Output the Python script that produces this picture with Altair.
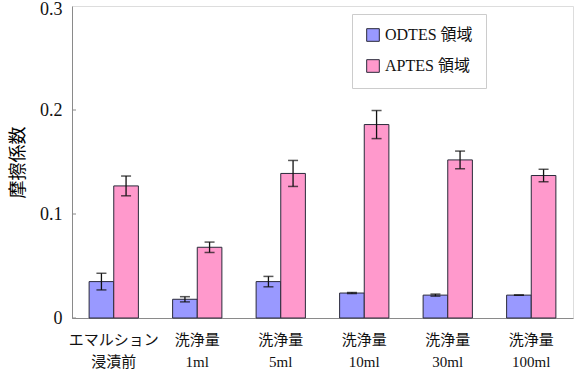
import altair as alt
import pandas as pd

# 摩擦係数 measured on each region after each washing step
groups = ["エマルション\n浸漬前", "洗浄量\n1ml", "洗浄量\n5ml", "洗浄量\n10ml", "洗浄量\n30ml", "洗浄量\n100ml"]
series = ["ODTES 領域", "APTES 領域"]
odtes_mean = [0.035, 0.018, 0.035, 0.024, 0.022, 0.022]
odtes_err = [0.008, 0.0025, 0.005, 0.0005, 0.001, 0.0]
aptes_mean = [0.127, 0.068, 0.139, 0.186, 0.152, 0.137]
aptes_err = [0.0095, 0.005, 0.0125, 0.0135, 0.0085, 0.006]
y_ticks = [0.0, 0.1, 0.2]

rows = []
for g, m, e in zip(groups, odtes_mean, odtes_err):
    rows.append({"group": g, "series": series[0], "mean": m, "lo": m - e, "hi": m + e})
for g, m, e in zip(groups, aptes_mean, aptes_err):
    rows.append({"group": g, "series": series[1], "mean": m, "lo": m - e, "hi": m + e})
df = pd.DataFrame(rows)

FONT = "Liberation Serif, Noto Sans CJK JP"

x_enc = alt.X(
    "group:N", sort=groups, title=None,
    scale=alt.Scale(paddingInner=0.41, paddingOuter=0.205),
    axis=alt.Axis(labelExpr="split(datum.label, '\\n')", labelAngle=0, ticks=False,
                  labelFontSize=15, labelPadding=14, labelLineHeight=22,
                  domainColor="#8a8a8a", labelColor="#111"),
)
xoff = alt.XOffset("series:N", sort=series)
y_scale = alt.Scale(domain=[0, 0.3], nice=False)

bars = alt.Chart(df).mark_bar(stroke="#2a2a3a", strokeWidth=1).encode(
    x=x_enc,
    xOffset=xoff,
    y=alt.Y("mean:Q", scale=y_scale, title="摩擦係数",
            axis=alt.Axis(values=[0, 0.1, 0.2, 0.3], ticks=False, grid=False,
                          labelExpr="datum.value == 0 ? '0' : format(datum.value, '.1f')",
                          labelOffset={"condition": {"test": "datum.value >= 0.3", "value": 3}, "value": 0},
                          labelFontSize=18, labelPadding=10, titleFontSize=18,
                          titlePadding=12, titleFontWeight="normal",
                          domainColor="#8a8a8a", labelColor="#111")),
    color=alt.Color("series:N", sort=series,
                    scale=alt.Scale(domain=series, range=["#9999FF", "#FF99CC"]),
                    legend=alt.Legend(title=None, orient="none", legendX=280, legendY=8,
                                      symbolType="square", symbolSize=160,
                                      symbolStrokeColor="#2a2a3a", symbolStrokeWidth=1,
                                      labelFontSize=16, labelFont=FONT, labelColor="#111",
                                      rowPadding=13, padding=13, strokeColor="#cccccc",
                                      fillColor="white", labelLimit=200)),
)

whisk = alt.Chart(df).mark_rule(color="#111", strokeWidth=1.3).encode(
    x=alt.X("group:N", sort=groups), xOffset=xoff,
    y=alt.Y("lo:Q", scale=y_scale), y2="hi:Q",
)
cap_hi = alt.Chart(df).mark_tick(color="#111", thickness=1.5, size=10).encode(
    x=alt.X("group:N", sort=groups), xOffset=xoff, y=alt.Y("hi:Q", scale=y_scale),
)
cap_lo = alt.Chart(df).mark_tick(color="#111", thickness=1.5, size=10).encode(
    x=alt.X("group:N", sort=groups), xOffset=xoff, y=alt.Y("lo:Q", scale=y_scale),
)

# short inward tick marks on the value axis
ticks = alt.Chart(pd.DataFrame({"v": y_ticks})).mark_rule(color="#8a8a8a").encode(
    x=alt.value(0), x2=alt.value(4), y=alt.Y("v:Q", scale=y_scale),
)

chart = alt.layer(bars, whisk, cap_hi, cap_lo, ticks).properties(
    width=501, height=312,
    autosize=alt.AutoSizeParams(type="none"),
    padding={"left": 72, "top": 6, "right": 6, "bottom": 62},
).configure_view(stroke="#8a8a8a", strokeWidth=1).configure(font=FONT)

chart.save("out.html", embed_options={"renderer": "svg", "actions": False})
